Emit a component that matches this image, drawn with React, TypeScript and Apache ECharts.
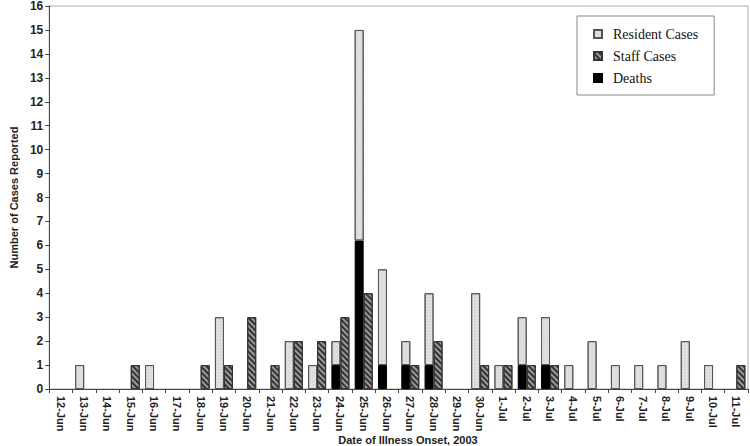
import React, { useEffect, useRef } from "react";
import * as echarts from "echarts";

const dates = [
  "12-Jun", "13-Jun", "14-Jun", "15-Jun", "16-Jun", "17-Jun", "18-Jun", "19-Jun", "20-Jun", "21-Jun",
  "22-Jun", "23-Jun", "24-Jun", "25-Jun", "26-Jun", "27-Jun", "28-Jun", "29-Jun", "30-Jun", "1-Jul",
  "2-Jul", "3-Jul", "4-Jul", "5-Jul", "6-Jul", "7-Jul", "8-Jul", "9-Jul", "10-Jul", "11-Jul",
];
// total resident cases per day (deaths included)
const residentCases = [0, 1, 0, 0, 1, 0, 0, 3, 0, 0, 2, 1, 2, 15, 5, 2, 4, 0, 4, 1, 3, 3, 1, 2, 1, 1, 1, 2, 1, 0];
const staffCases = [0, 0, 0, 1, 0, 0, 1, 1, 3, 1, 2, 2, 3, 4, 0, 1, 2, 0, 1, 1, 1, 1, 0, 0, 0, 0, 0, 0, 0, 1];
const deaths = [0, 0, 0, 0, 0, 0, 0, 0, 0, 0, 0, 0, 1, 6.2, 1, 1, 1, 0, 0, 0, 1, 1, 0, 0, 0, 0, 0, 0, 0, 0];

export default function App() {
  const ref = useRef<HTMLDivElement>(null);
  useEffect(() => {
    document.body.style.margin = "0";
    const chart = echarts.init(ref.current!, null, { renderer: "svg" });
    const residentRest = residentCases.map((v, i) => +(v - deaths[i]).toFixed(2));
    const toData = (arr: number[]) => arr.map((v) => (v === 0 ? null : v));
    const axisFont = { fontFamily: "Liberation Sans, Arial, sans-serif", fontWeight: "bold" as const, fontSize: 11, color: "#222" };
    chart.setOption({
      animation: false,
      backgroundColor: "#fff",
      grid: { left: 39, right: 2, top: 5, bottom: 57, show: true, borderColor: "#aaa", borderWidth: 1 },
      legend: {
        orient: "vertical",
        left: 577,
        top: 16,
        data: ["Resident Cases", "Staff Cases", "Deaths"],
        itemWidth: 8,
        itemHeight: 8,
        itemGap: 8,
        padding: [11, 16, 10, 16],
        borderColor: "#888",
        borderWidth: 1,
        backgroundColor: "#fff",
        icon: "rect",
        textStyle: { fontFamily: "Liberation Serif, Times New Roman, serif", fontSize: 14, color: "#111", padding: [0, 0, 0, 6] },
      },
      xAxis: {
        type: "category",
        data: dates,
        axisLine: { lineStyle: { color: "#444", width: 1 } },
        axisTick: { show: true, length: 4, lineStyle: { color: "#444" } },
        axisLabel: { ...axisFont, rotate: -90, interval: 0, margin: 7 },
      },
      yAxis: {
        type: "value",
        min: 0,
        max: 16,
        interval: 1,
        name: "Number of Cases Reported",
        nameLocation: "middle",
        nameRotate: 90,
        nameGap: 29,
        nameTextStyle: { ...axisFont },
        axisLine: { show: true, lineStyle: { color: "#444", width: 1 } },
        axisTick: { show: true, length: 4, lineStyle: { color: "#444" } },
        axisLabel: { ...axisFont, fontSize: 12, margin: 6 },
        splitLine: { show: false },
      },
      graphic: [
        {
          type: "text",
          x: 408,
          y: 440,
          style: {
            text: "Date of Illness Onset, 2003",
            fontFamily: "Liberation Sans, Arial, sans-serif",
            fontWeight: "bold",
            fontSize: 11,
            fill: "#222",
            align: "center",
            verticalAlign: "middle",
          },
        },
      ],
      series: [
        {
          name: "Deaths",
          type: "bar",
          stack: "res",
          barWidth: 9,
          barGap: "0%",
          data: toData(deaths),
          itemStyle: { color: "#000", borderColor: "#000", borderWidth: 1 },
        },
        {
          name: "Resident Cases",
          type: "bar",
          stack: "res",
          barWidth: 9,
          barGap: "0%",
          data: toData(residentRest),
          itemStyle: {
            color: "#e2e2e2",
            borderColor: "#555",
            borderWidth: 1,
            decal: {
              symbol: "circle",
              symbolSize: 0.6,
              dashArrayX: [2, 1],
              dashArrayY: [2, 1],
              color: "#c4c4c4",
            },
          },
        },
        {
          name: "Staff Cases",
          type: "bar",
          barWidth: 9,
          barGap: "0%",
          data: toData(staffCases),
          itemStyle: {
            color: "#9a9a9a",
            borderColor: "#333",
            borderWidth: 1,
            decal: {
              symbol: "rect",
              symbolSize: 1,
              dashArrayX: [1, 0],
              dashArrayY: [2, 2],
              rotation: Math.PI / 4,
              color: "#333",
            },
          },
        },
      ],
    });
    return () => chart.dispose();
  }, []);
  return <div ref={ref} style={{ width: 750, height: 446 }} />;
}
